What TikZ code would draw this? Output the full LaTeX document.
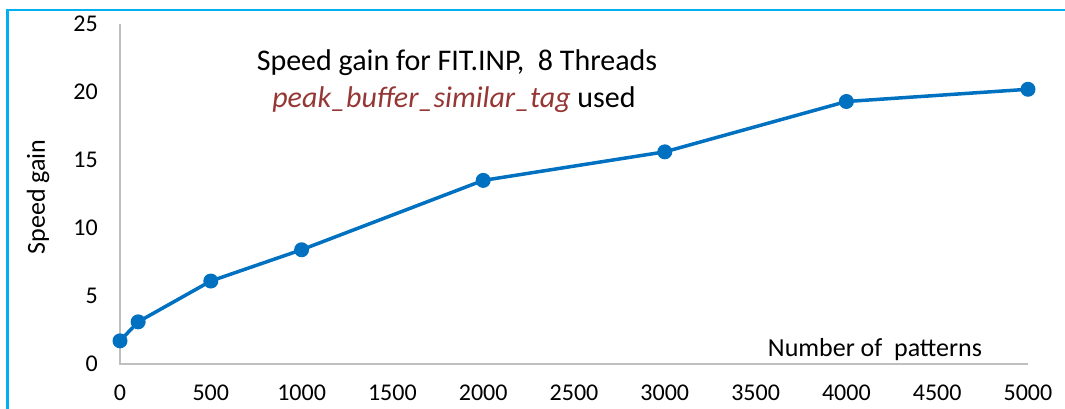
\documentclass[tikz,border=0pt]{standalone}
\usepackage{fontspec}
\setmainfont{Carlito}
\usepackage{tikz}
\usetikzlibrary{positioning}
\definecolor{serieblue}{RGB}{0, 112, 192}
\definecolor{framecyan}{RGB}{0, 176, 240}
\definecolor{axisgray}{RGB}{191, 191, 191}
\definecolor{tagred}{RGB}{149, 55, 53}

\begin{document}
\begin{tikzpicture}[x=1pt, y=-1pt,
    every node/.style={font=\fontsize{24}{28}\selectfont, inner sep=0pt},
    ticklab/.style={anchor=east},
    xticklab/.style={anchor=center},
    axtitle/.style={font=\fontsize{26}{30}\selectfont},
    charttitle/.style={font=\fontsize{30}{34}\selectfont},
    marker/.style={circle, fill=serieblue, minimum size=15pt, inner sep=0pt}]
    \useasboundingbox (0,0) rectangle (1065,409);
    % Chart frame (only top and left edges inside the picture)
    \draw[framecyan, line width=2.5pt] (7.5,409) -- (7.5,10) -- (1065,10);

    % Axes
    \coordinate (origin) at (120,364);
    \coordinate (ytop) at (120,24);
    \coordinate (xend) at (1028,364);
    \draw[axisgray, line width=1.8pt] (ytop) -- (origin) -- (xend);

    % Y tick labels
    \foreach \v in {0,5,...,25}
      \node[ticklab] (y\v) at (98,364-13.6*\v) {\v};
    % X tick labels
    \foreach \v in {0,500,...,5000}
      \node[xticklab] (x\v) at (120+0.1816*\v,393) {\v};

    % Axis titles
    \node[axtitle, rotate=90] (ylab) at (38,197) {Speed gain};
    \node[axtitle] (xlab) at (875,350) {Number of\ \ patterns};

    % Chart title
    \node[charttitle] (title1) at (457,63)
      {Speed gain for FIT.INP,\ \ 8 Threads};
    \node[charttitle] (title2) at (454,100)
      {\textcolor{tagred}{\itshape peak\_buffer\_similar\_tag} used};

    % Data points
    \begin{scope}[shift={(origin)}, x=0.1816pt, y=13.6pt]
      \coordinate (d1) at (0,1.7);
      \coordinate (d2) at (100,3.1);
      \coordinate (d3) at (500,6.1);
      \coordinate (d4) at (1000,8.4);
      \coordinate (d5) at (2000,13.5);
      \coordinate (d6) at (3000,15.6);
      \coordinate (d7) at (4000,19.3);
      \coordinate (d8) at (5000,20.2);
    \end{scope}
    \draw[serieblue, line width=3.5pt, line join=round]
      (d1) -- (d2) -- (d3) -- (d4) -- (d5) -- (d6) -- (d7) -- (d8);
    \foreach \i in {1,...,8}
      \node[marker] (m\i) at (d\i) {};
\end{tikzpicture}
\end{document}
